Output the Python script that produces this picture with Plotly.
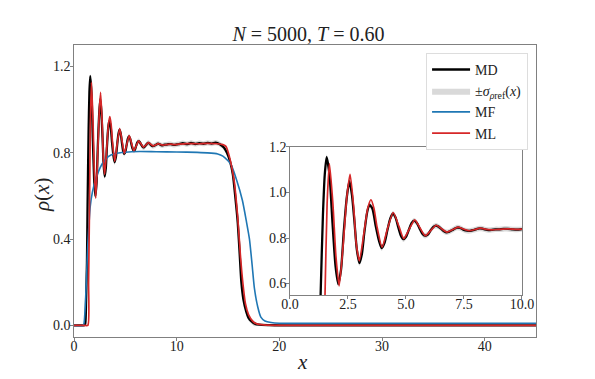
import plotly.graph_objects as go

# MD (reference molecular dynamics) density profile
md_x = [0, 0.5, 1.0, 1.1, 1.18, 1.26, 1.32, 1.42, 1.5, 1.58, 1.7, 1.83, 1.96, 2.08, 2.2, 2.32, 2.45,
        2.56, 2.67, 2.78, 2.88, 2.99, 3.1, 3.2, 3.32, 3.42, 3.55, 3.7, 3.83, 3.95, 4.08, 4.2, 4.32,
        4.43, 4.55, 4.66, 4.78, 4.89, 5.0, 5.12, 5.24, 5.35, 5.47, 5.58, 5.7, 5.82, 5.94, 6.05, 6.17,
        6.29, 6.4, 6.52, 6.64, 6.75, 6.87, 7.0, 7.11, 7.22, 7.34, 7.45, 7.57, 7.7, 7.82, 7.95, 8.06,
        8.17, 8.3, 8.4, 8.55, 8.7, 8.85, 9.0, 9.2, 9.4, 9.6, 9.8, 10.0, 10.2, 10.6, 11.0, 11.4, 11.8,
        12.2, 12.6, 13.0, 13.4, 13.8, 14.2, 14.6, 14.9, 15.2, 15.47, 15.7, 15.95, 16.15, 16.3, 16.5,
        16.77, 17.0, 17.3, 17.6, 18.0, 19.0, 20.0, 25.0, 30.0, 35.0, 40.0, 45.0]
md_y = [0.0, 0.0, 0.0, 0.008, 0.12, 0.29, 0.55, 0.9, 1.08, 1.155, 1.08, 0.87, 0.68, 0.598, 0.66, 0.83, 0.98,
        1.05, 0.99, 0.87, 0.75, 0.69, 0.73, 0.82, 0.91, 0.946, 0.93, 0.85, 0.79, 0.756, 0.78, 0.835, 0.885,
        0.907, 0.89, 0.85, 0.81, 0.795, 0.805, 0.835, 0.865, 0.876, 0.866, 0.843, 0.82, 0.81, 0.815, 0.832, 0.848,
        0.854, 0.85, 0.84, 0.83, 0.825, 0.828, 0.835, 0.842, 0.846, 0.844, 0.838, 0.833, 0.831, 0.833, 0.836, 0.84,
        0.842, 0.841, 0.838, 0.835, 0.836, 0.838, 0.838, 0.84, 0.84, 0.838, 0.837, 0.839, 0.84, 0.845, 0.84, 0.846, 0.841,
        0.845, 0.842, 0.846, 0.843, 0.847, 0.84, 0.825, 0.8, 0.76, 0.7, 0.6, 0.475, 0.32, 0.2, 0.12,
        0.065, 0.035, 0.018, 0.008, 0.003, 0.001, 0.0, 0.0, 0.0, 0.0, 0.0, 0.0]
md_sigma = 0.012

# ML prediction
ml_x = [0, 0.5, 1.0, 1.35, 1.42, 1.51, 1.6, 1.7, 1.85, 1.98, 2.12, 2.3, 2.45, 2.59, 2.75, 2.85, 2.99,
        3.2, 3.35, 3.49, 3.62, 3.75, 3.97, 4.2, 4.45, 4.7, 4.9, 5.12, 5.38, 5.6, 5.83, 6.06, 6.3,
        6.52, 6.76, 7.0, 7.24, 7.46, 7.72, 7.97, 8.2, 8.45, 8.7, 9.0, 9.4, 9.8, 10.2, 11.0, 12.0,
        13.0, 14.0, 14.5, 14.8, 15.2, 15.6, 15.95, 16.2, 16.44, 16.7, 17.0, 17.4, 17.8, 18.5, 20.0,
        30.0, 45.0]
ml_y = [0.0, 0.0, 0.0, 0.0, 0.2, 0.55, 0.95, 1.127, 0.95, 0.72, 0.59, 0.78, 0.98, 1.08, 0.93, 0.78, 0.70,
        0.83, 0.93, 0.968, 0.93, 0.85, 0.76, 0.84, 0.912, 0.85, 0.797, 0.835, 0.88, 0.845, 0.81, 0.832, 0.856,
        0.842, 0.826, 0.836, 0.848, 0.84, 0.832, 0.837, 0.843, 0.838, 0.836, 0.838, 0.84, 0.838, 0.84, 0.843, 0.842,
        0.844, 0.842, 0.838, 0.83, 0.77, 0.67, 0.5, 0.33, 0.2, 0.1, 0.05, 0.02, 0.007, 0.002, 0.0,
        0.0, 0.0]

# MF (mean-field) prediction
mf_x = [0, 0.9, 1.05, 1.2, 1.35, 1.5, 1.58, 1.8, 2.07, 2.4, 2.72, 3.0, 3.37, 4.0, 5.0, 6.4, 8.0, 10.0,
        12.0, 13.0, 14.0, 14.5, 15.0, 15.3, 15.8, 16.4, 16.8, 17.09, 17.35, 17.57, 17.9, 18.2, 18.6,
        19.2, 20.0, 30.0, 45.0]
mf_y = [0.0, 0.0, 0.05, 0.2, 0.38, 0.5, 0.55, 0.62, 0.67, 0.715, 0.747, 0.765, 0.784, 0.797, 0.803, 0.806, 0.805, 0.804,
        0.802, 0.8, 0.795, 0.785, 0.763, 0.745, 0.68, 0.58, 0.48, 0.4, 0.28, 0.173, 0.085, 0.038, 0.02,
        0.013, 0.01, 0.01, 0.01]

# axis ticks
main_xticks = [0, 10, 20, 30, 40]
main_yticks = [0.0, 0.4, 0.8, 1.2]
inset_xticks = [0, 2.5, 5, 7.5, 10]
inset_yticks = [0.6, 0.8, 1.0, 1.2]

FONT = "Liberation Serif"
GRID = "#808080"
RED = "#d62728"
BLUE = "#1f77b4"
BAND = "rgba(185,185,185,0.55)"
TXT = "#222"

md_lo = [v - md_sigma if v > 0.005 else v for v in md_y]
md_hi = [v + md_sigma if v > 0.005 else v for v in md_y]

fig = go.Figure()


def add_set(xa, ya, legend):
    fig.add_trace(go.Scatter(x=md_x, y=md_lo, mode="lines", line=dict(width=0, shape="spline"),
                             showlegend=False, hoverinfo="skip", xaxis=xa, yaxis=ya))
    fig.add_trace(go.Scatter(x=md_x, y=md_hi, mode="lines", line=dict(width=0, shape="spline"),
                             fill="tonexty", fillcolor=BAND, name="±<i>σ</i><sub><i>ρ</i>ref</sub>(<i>x</i>)",
                             showlegend=legend, legendrank=2, xaxis=xa, yaxis=ya))
    fig.add_trace(go.Scatter(x=md_x, y=md_y, mode="lines", name="MD", legendrank=1, showlegend=legend,
                             line=dict(color="black", width=2.3, shape="spline", smoothing=0.6),
                             xaxis=xa, yaxis=ya))
    if legend:
        fig.add_trace(go.Scatter(x=mf_x, y=mf_y, mode="lines", name="MF", legendrank=3,
                                 line=dict(color=BLUE, width=1.6, shape="spline", smoothing=0.6),
                                 xaxis=xa, yaxis=ya))
    fig.add_trace(go.Scatter(x=ml_x, y=ml_y, mode="lines", name="ML", legendrank=4, showlegend=legend,
                             line=dict(color=RED, width=1.7, shape="spline", smoothing=0.6),
                             xaxis=xa, yaxis=ya))


add_set("x", "y", True)
add_set("x2", "y2", False)

# invisible anchors so the label-only overlay axes get drawn
for xa, ya, xt, yt in [("x3", "y3", main_xticks, main_yticks), ("x4", "y4", inset_xticks, inset_yticks)]:
    fig.add_trace(go.Scatter(x=xt[1:2], y=yt[1:2], mode="markers", marker=dict(opacity=0, size=1),
                             showlegend=False, hoverinfo="skip", xaxis=xa, yaxis=ya))

# frame + tick marks (labels come from the overlay axes below, which sit a bit closer to the frame)
frame = dict(showgrid=False, zeroline=False, showline=True, mirror=True, linecolor=GRID, linewidth=1,
             ticks="outside", ticklen=3, tickcolor=GRID, automargin=False, showticklabels=False)
labels = dict(showgrid=False, zeroline=False, showline=False, ticks="", automargin=False,
              anchor="free", tickformat=".1f", tickfont=dict(family=FONT, size=14, color=TXT))

# plot area is 467 px wide starting 5 px left of the main frame, so label axes can sit left of it
W = 467.0
X0 = 5 / W
DY = 0.0034

fig.update_layout(
    width=595, height=379,
    # the page body adds an 8px margin, so the figure's own margins are shifted by that amount
    margin=dict(l=61, r=67, t=37, b=50, autoexpand=False),
    paper_bgcolor="white", plot_bgcolor="white",
    title=dict(text="<i>N</i> = 5000, <i>T</i> = 0.60", x=0.505, xanchor="center", y=0.913, yanchor="bottom",
               font=dict(family=FONT, size=20, color=TXT)),
    xaxis=dict(range=[0, 45], tickvals=main_xticks, domain=[X0, 1], **frame),
    yaxis=dict(range=[-0.054, 1.3], tickvals=main_yticks, domain=[0, 1], **frame),
    xaxis2=dict(range=[0, 10], tickvals=inset_xticks, domain=[0.4732, 0.970], anchor="y2", **frame),
    yaxis2=dict(range=[0.55, 1.2], tickvals=inset_yticks, domain=[0.144, 0.651], anchor="x2", **frame),
    xaxis3=dict(range=[0, 45], tickvals=main_xticks, overlaying="x", position=DY, side="bottom",
                **{**labels, "tickformat": "d"}),
    yaxis3=dict(range=[-0.054, 1.3], tickvals=main_yticks, overlaying="y", position=1.5 / W, side="left",
                **labels),
    xaxis4=dict(range=[0, 10], tickvals=inset_xticks, overlaying="x2", position=0.144 + DY, side="bottom",
                **labels),
    yaxis4=dict(range=[0.55, 1.2], tickvals=inset_yticks, overlaying="y2", position=0.4657, side="left",
                **labels),
    legend=dict(x=0.983, xanchor="right", y=0.973, yanchor="top", bgcolor="white", traceorder="normal",
                bordercolor="#dddddd", borderwidth=1, font=dict(family=FONT, size=14, color=TXT),
                tracegroupgap=0, itemwidth=38),
    annotations=[
        dict(text="<i>x</i>", xref="paper", yref="paper", x=0.501, y=-0.086, showarrow=False,
             xanchor="center", yanchor="middle", font=dict(family=FONT, size=21, color=TXT)),
        dict(text="<i>ρ</i>(<i>x</i>)", xref="paper", yref="paper", x=-0.058, y=0.486, showarrow=False,
             textangle=-90, xanchor="center", yanchor="middle", font=dict(family=FONT, size=21, color=TXT)),
    ],
    showlegend=True,
)

fig.write_html("out.html")
